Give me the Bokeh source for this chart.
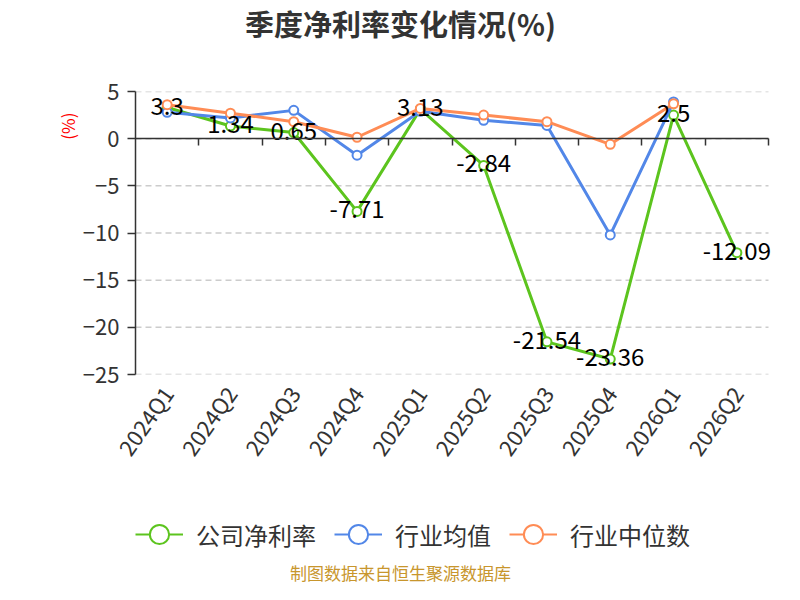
import math
from bokeh.plotting import figure
from bokeh.layouts import column
from bokeh.models import (Range1d, FixedTicker, LinearAxis, Label, Legend, LegendItem,
                          ColumnDataSource, Title)
from bokeh.core.properties import value
from bokeh.embed import file_html
from bokeh.resources import INLINE

# ---- data ----
quarters = ["2024Q1", "2024Q2", "2024Q3", "2024Q4", "2025Q1",
            "2025Q2", "2025Q3", "2025Q4", "2026Q1", "2026Q2"]
company = [3.3, 1.34, 0.65, -7.71, 3.13, -2.84, -21.54, -23.36, 2.5, -12.09]
industry_avg = [2.8, 2.2, 3.0, -1.75, 2.9, 1.95, 1.4, -10.2, 3.9, float("nan")]
industry_median = [3.6, 2.7, 1.8, 0.15, 3.2, 2.5, 1.8, -0.6, 3.7, float("nan")]
y_ticks = [-25, -20, -15, -10, -5, 0, 5]

series_names = ["公司净利率", "行业均值", "行业中位数"]
colors = ["#5cc41e", "#5287e8", "#ff8c55"]
title_text = "季度净利率变化情况(%)"
unit_text = "(%)"
source_text = "制图数据来自恒生聚源数据库"

FONT = "Noto Sans CJK SC"
TXT = "#333333"
W = 784
TOP_H, MAIN_H, BOT_H = 50, 440, 94
FRAME_LEFT = 135
AXIS_RIGHT = 768
CENTER_X = 400 - FRAME_LEFT  # frames of the stacked figures are aligned


def bare(height):
    f = figure(width=W, height=height, output_backend="svg", toolbar_location=None,
               x_range=Range1d(0, 1), y_range=Range1d(0, 1),
               min_border=0, outline_line_color=None)
    f.axis.visible = False
    f.grid.visible = False
    return f


# ---- title strip ----
ptop = bare(TOP_H)
ptop.add_layout(Label(x=CENTER_X, y=28, x_units="screen", y_units="screen", text=title_text,
                      text_align="center", text_baseline="middle", text_font=FONT,
                      text_font_size="29px", text_font_style="bold", text_color=TXT))

# ---- main chart ----
n = len(quarters)
xs = [i + 0.5 for i in range(n)]
# frame runs to the canvas edge so that the last data label is not clipped;
# the axis line and grid still stop at the last category boundary
x_end = n * (W - FRAME_LEFT) / (AXIS_RIGHT - FRAME_LEFT)

p = figure(width=W, height=MAIN_H, output_backend="svg", toolbar_location=None,
           x_range=Range1d(0, x_end), y_range=Range1d(min(y_ticks), max(y_ticks)),
           min_border_left=FRAME_LEFT, min_border_right=0, min_border_top=41,
           min_border_bottom=116, outline_line_color=None)

p.yaxis.ticker = FixedTicker(ticks=y_ticks)
p.yaxis.axis_line_color = TXT
p.yaxis.axis_line_width = 1.5
p.yaxis.major_tick_line_color = TXT
p.yaxis.major_tick_line_width = 1.5
p.yaxis.major_tick_out = 8
p.yaxis.major_tick_in = 0
p.yaxis.minor_tick_line_color = None
p.yaxis.major_label_text_font = FONT
p.yaxis.major_label_text_font_size = "22px"
p.yaxis.major_label_text_color = TXT
p.yaxis.major_label_standoff = 8

p.xaxis.ticker = FixedTicker(ticks=xs)
p.xaxis.major_label_overrides = {x: q for x, q in zip(xs, quarters)}
p.xaxis.axis_line_color = None
p.xaxis.major_tick_line_color = None
p.xaxis.minor_tick_line_color = None
p.xaxis.major_label_orientation = 0.96
p.xaxis.major_label_text_font = FONT
p.xaxis.major_label_text_font_size = "22px"
p.xaxis.major_label_text_color = TXT
p.xaxis.major_label_standoff = 8

zero_axis = LinearAxis(fixed_location=0, bounds=(0, n),
                       ticker=FixedTicker(ticks=list(range(1, n + 1))))
zero_axis.axis_line_color = TXT
zero_axis.axis_line_width = 1.5
zero_axis.major_tick_line_color = TXT
zero_axis.major_tick_line_width = 1.5
zero_axis.major_tick_out = 0
zero_axis.major_tick_in = 7
zero_axis.minor_tick_line_color = None
zero_axis.major_label_text_alpha = 0
zero_axis.major_label_text_font_size = "1px"
p.add_layout(zero_axis, "above")

p.grid.visible = False
grid_src = ColumnDataSource(dict(x0=[0] * len(y_ticks), x1=[n] * len(y_ticks),
                                 y=y_ticks))
p.segment(x0="x0", x1="x1", y0="y", y1="y", source=grid_src, line_color="#cccccc",
          line_width=1.5, line_dash="6 4")

unit_title = Title(text=unit_text, align="right", offset=21, text_font=FONT,
                   text_font_size="17px", text_font_style="normal", text_color="#ff0000",
                   standoff=0)
p.add_layout(unit_title, "left")

for vals, col in zip([company, industry_avg, industry_median], colors):
    src = ColumnDataSource(dict(x=xs, y=vals))
    p.line("x", "y", source=src, line_color=col, line_width=3)
    p.scatter("x", "y", source=src, size=9, marker="circle", fill_color="white",
              line_color=col, line_width=2)

lab_src = ColumnDataSource(dict(x=xs, y=company, t=[f"{v:g}" for v in company]))
p.text("x", "y", text="t", source=lab_src, text_align="center", text_baseline="middle",
       text_font=value(FONT), text_font_size="24px", text_color="#000000", y_offset=-2)

# ---- legend + source strip ----
pbot = bare(BOT_H)
items = []
for name, col in zip(series_names, colors):
    src = ColumnDataSource(dict(x=[float("nan")], y=[float("nan")]))
    r1 = pbot.line("x", "y", source=src, line_color=col, line_width=2)
    r2 = pbot.scatter("x", "y", source=src, size=20, marker="circle", fill_color="white",
                      line_color=col, line_width=2)
    items.append(LegendItem(label=name, renderers=[r1, r2]))
legend = Legend(items=items, orientation="horizontal", location=(0, 26),
                glyph_width=48, glyph_height=48, label_standoff=13, spacing=18,
                padding=0, margin=0, border_line_color=None, background_fill_alpha=0,
                label_text_font=FONT, label_text_font_size="24px", label_text_color=TXT)
pbot.add_layout(legend, "center")
pbot.add_layout(Label(x=CENTER_X, y=12, x_units="screen", y_units="screen", text=source_text,
                      text_align="center", text_baseline="middle", text_font=FONT,
                      text_font_size="17px", text_color="#c8962d"))

layout = column(ptop, p, pbot, spacing=0)
open("out.html", "w").write(file_html(layout, INLINE))
